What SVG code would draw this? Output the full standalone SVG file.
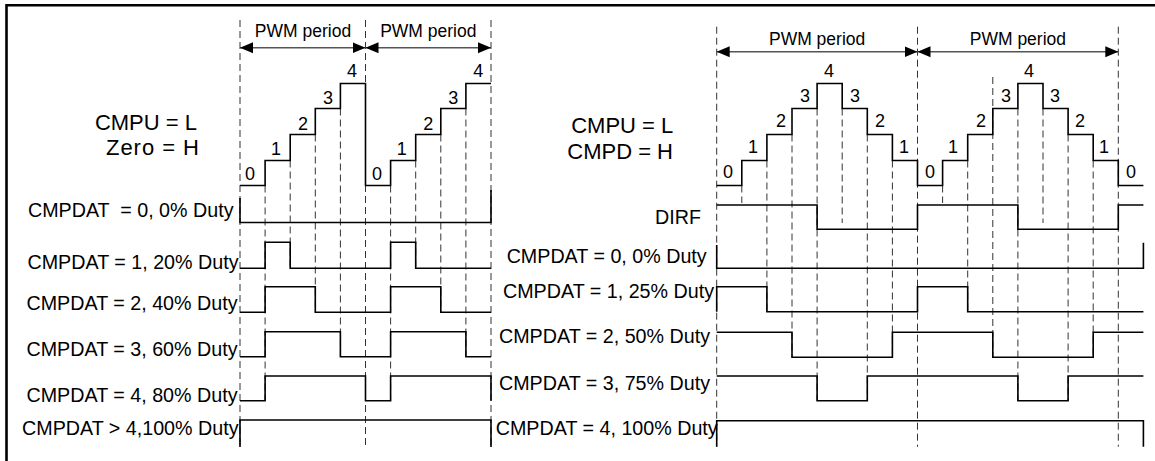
<svg xmlns="http://www.w3.org/2000/svg" width="1155" height="461" viewBox="0 0 1155 461">
<style>
text{font-family:"Liberation Sans",Arial,sans-serif;fill:#000}
.lbl{font-size:19.7px;text-anchor:end}
.big{font-size:22px;text-anchor:end}
.num{font-size:18px;text-anchor:middle}
.per{font-size:17.5px;text-anchor:middle}
.dash{stroke:#333;stroke-width:1;stroke-dasharray:7 4;fill:none}
.wave{stroke:#000;stroke-width:1.6;fill:none}
.arr{stroke:#555;stroke-width:1.6;fill:none;marker-start:url(#ah);marker-end:url(#ah)}
</style>
<defs>
<marker id="ah" markerUnits="userSpaceOnUse" markerWidth="14" markerHeight="12" refX="13" refY="6" orient="auto-start-reverse">
<path d="M0,0.5 L13,6 L0,11.5 z" fill="#000"/>
</marker>
</defs>
<rect width="1155" height="461" fill="#fff"/>
<g id="border" stroke="#000" stroke-width="2.6" fill="none">
<path d="M6.5,461 V5.3 H1155"/>
</g>

<g id="connectors">
<path class="dash" d="M240,20 V447 M365.5,20 V447 M491,20 V447"/>
<path class="dash" d="M265.1,185.5 V400.7 M290.2,160.5 V268.3 M315.3,134.5 V312.3 M340.4,108.5 V356.7 M390.6,185.5 V400.7 M415.7,160.5 V268.3 M440.8,134.5 V312.3 M465.9,108.5 V356.7"/>
<path class="dash" d="M716.7,26.7 V446.7 M917.5,26.7 V446.7 M1118.3,26.7 V446.7"/>
<path class="dash" d="M741.8,185.5 V203 M766.9,160.5 V311.7 M792,134.5 V357.3 M817.1,108.5 V400.7 M842.2,108.5 V223 M867.3,134.5 V400.7 M892.4,160.5 V357.3 M942.6,185.5 V203 M967.7,160.5 V311.7 M992.8,77 V357.3 M1017.9,108.5 V400.7 M1043,108.5 V223 M1068.1,134.5 V400.7 M1093.2,160.5 V357.3"/>
<line class="arr" x1="240" y1="47.7" x2="365.5" y2="47.7"/>
<line class="arr" x1="365.5" y1="47.7" x2="491" y2="47.7"/>
<line class="arr" x1="716.7" y1="51.7" x2="917.5" y2="51.7"/>
<line class="arr" x1="917.5" y1="51.7" x2="1118.3" y2="51.7"/>
</g>

<g id="left-panel">
<text class="per" x="303" y="37">PWM period</text>
<text class="per" x="428.3" y="37">PWM period</text>
<text class="big" x="197" y="130">CMPU = L</text>
<text class="big" x="199" y="155" textLength="93">Zero = H</text>
<path id="left-counter" class="wave" d="M240,185.5 H265.1 V160.5 H290.2 V134.5 H315.3 V108.5 H340.4 V83.5 H365.5 V185.5 H390.6 V160.5 H415.7 V134.5 H440.8 V108.5 H465.9 V83.5 H491"/>
<text class="num" x="250" y="180">0</text>
<text class="num" x="276" y="155">1</text>
<text class="num" x="303" y="130">2</text>
<text class="num" x="328" y="104">3</text>
<text class="num" x="352" y="77.3">4</text>
<text class="num" x="377" y="180">0</text>
<text class="num" x="401.7" y="155">1</text>
<text class="num" x="428.3" y="130">2</text>
<text class="num" x="453.3" y="104">3</text>
<text class="num" x="478.3" y="77.3">4</text>

<g id="left-duty0"><text class="lbl" x="233.5" y="217.3" xml:space="preserve">CMPDAT  = 0, 0% Duty</text>
<path class="wave" d="M240,198 V222.5 H491 V190"/></g>
<g id="left-duty1"><text class="lbl" x="238.5" y="269">CMPDAT = 1, 20% Duty</text>
<path class="wave" d="M240,268.3 H265.1 V242.3 H290.2 V268.3 H390.6 V242.3 H415.7 V268.3 H491"/></g>
<g id="left-duty2"><text class="lbl" x="237.5" y="310">CMPDAT = 2, 40% Duty</text>
<path class="wave" d="M240,312.3 H265.1 V286.7 H315.3 V312.3 H390.6 V286.7 H440.8 V312.3 H491"/></g>
<g id="left-duty3"><text class="lbl" x="237.5" y="355.7">CMPDAT = 3, 60% Duty</text>
<path class="wave" d="M240,356.7 H265.1 V331.7 H340.4 V356.7 H390.6 V331.7 H465.9 V356.7 H491"/></g>
<g id="left-duty4"><text class="lbl" x="237.5" y="401.7">CMPDAT = 4, 80% Duty</text>
<path class="wave" d="M240,400.7 H265.1 V376 H365.5 V400.7 H390.6 V376 H491 V400.7"/></g>
<g id="left-duty5"><text class="lbl" x="238.5" y="435">CMPDAT &gt; 4,100% Duty</text>
<path class="wave" d="M240,447 V420 H491 V447"/></g>
</g>

<g id="right-panel">
<text class="per" x="817.1" y="45">PWM period</text>
<text class="per" x="1017.9" y="45">PWM period</text>
<text class="big" x="673.3" y="133.3">CMPU = L</text>
<text class="big" x="673" y="159.3">CMPD = H</text>
<path id="right-counter" class="wave" d="M716.7,185.5 H741.8 V160.5 H766.9 V134.5 H792 V108.5 H817.1 V83.5 H842.2 V108.5 H867.3 V134.5 H892.4 V160.5 H917.5 V185.5 H942.6 V160.5 H967.7 V134.5 H992.8 V108.5 H1017.9 V83.5 H1043 V108.5 H1068.1 V134.5 H1093.2 V160.5 H1118.3 V185.5 H1143.4"/>
<text class="num" x="728" y="178.3">0</text>
<text class="num" x="753" y="153.3">1</text>
<text class="num" x="781" y="127.3">2</text>
<text class="num" x="805" y="101.7">3</text>
<text class="num" x="829" y="76.7">4</text>
<text class="num" x="855" y="101.7">3</text>
<text class="num" x="880" y="127.3">2</text>
<text class="num" x="904" y="153.3">1</text>
<text class="num" x="930" y="178.3">0</text>
<text class="num" x="953" y="153.3">1</text>
<text class="num" x="981" y="127.3">2</text>
<text class="num" x="1006" y="101.7">3</text>
<text class="num" x="1029" y="76.7">4</text>
<text class="num" x="1055" y="101.7">3</text>
<text class="num" x="1080" y="127.3">2</text>
<text class="num" x="1104" y="153.3">1</text>
<text class="num" x="1131" y="178.3">0</text>

<g id="right-dirf"><text class="lbl" x="701" y="224">DIRF</text>
<path class="wave" d="M716.7,205 H817.1 V229.3 H917.5 V205 H1017.9 V229.3 H1118.3 V205 H1143.4"/></g>
<g id="right-duty0"><text class="lbl" x="706.7" y="262.7">CMPDAT = 0, 0% Duty</text>
<path class="wave" d="M716.7,245 V268.3 H1143.4 V242.7"/></g>
<g id="right-duty1"><text class="lbl" x="714" y="297.7">CMPDAT = 1, 25% Duty</text>
<path class="wave" d="M716.7,311.7 V286.7 H766.9 V311.7 H917.5 V286.7 H967.7 V311.7 H1143.4"/></g>
<g id="right-duty2"><text class="lbl" x="710" y="343.3">CMPDAT = 2, 50% Duty</text>
<path class="wave" d="M716.7,332.3 H792 V357.3 H892.4 V332.3 H992.8 V357.3 H1093.2 V332.3 H1143.4"/></g>
<g id="right-duty3"><text class="lbl" x="710" y="390">CMPDAT = 3, 75% Duty</text>
<path class="wave" d="M716.7,376 H817.1 V400.7 H867.3 V376 H1017.9 V400.7 H1068.1 V376 H1143.4"/></g>
<g id="right-duty4"><text class="lbl" x="717.7" y="435">CMPDAT = 4, 100% Duty</text>
<path class="wave" d="M716.7,446.7 V420.7 H1143.4 V446.7"/></g>
</g>
</svg>
